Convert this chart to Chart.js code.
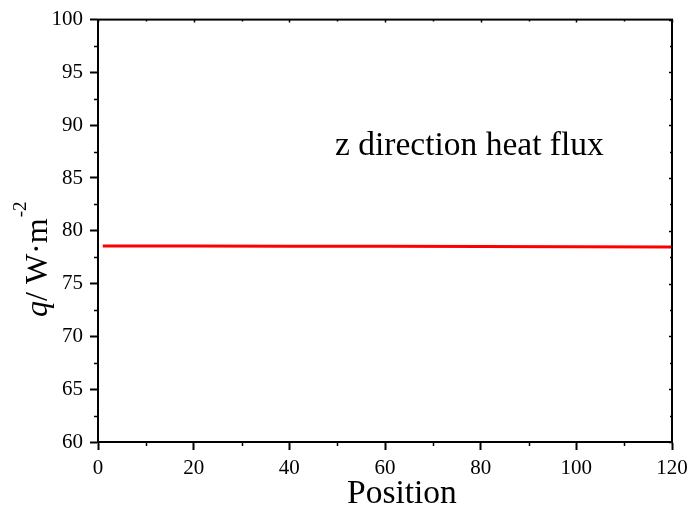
<!DOCTYPE html>
<html>
<head>
<meta charset="utf-8">
<script src="https://cdn.jsdelivr.net/npm/chart.js@4"></script>
<style>
  html, body { margin: 0; padding: 0; background: #fff; }
  #wrap { width: 690px; height: 508px; }
</style>
</head>
<body>
<div id="wrap"><canvas id="c" width="690" height="508"></canvas></div>
<script>
// Heat flux along the z direction, sampled by position
const positions = [1, 20, 40, 60, 80, 100, 120];
const fluxZ = [78.56, 78.55, 78.54, 78.53, 78.51, 78.48, 78.46];

const xTicks = [0, 20, 40, 60, 80, 100, 120];
const yTicks = [60, 65, 70, 75, 80, 85, 90, 95, 100];

const annotationText = 'z direction heat flux';
const xTitle = 'Position';

const SERIF = '"Liberation Serif", "Times New Roman", serif';

// Frame, minor ticks, axis titles and the inline label
const decorations = {
  id: 'decorations',
  afterDraw(chart) {
    const { ctx, chartArea: a, scales: { x, y } } = chart;
    ctx.save();
    ctx.strokeStyle = '#000';
    ctx.lineWidth = 2;
    ctx.strokeRect(a.left, a.top, a.right - a.left, a.bottom - a.top);

    // minor ticks: outward on bottom/left, tiny inward marks on top/right
    ctx.lineWidth = 1.5;
    ctx.beginPath();
    for (let v = 10; v < 120; v += 20) {
      const px = Math.round(x.getPixelForValue(v)) + 0.5;
      ctx.moveTo(px, a.bottom); ctx.lineTo(px, a.bottom + 4);
      ctx.moveTo(px, a.top); ctx.lineTo(px, a.top + 2);
    }
    for (let v = 62.5; v < 100; v += 5) {
      const py = Math.round(y.getPixelForValue(v)) + 0.5;
      ctx.moveTo(a.left, py); ctx.lineTo(a.left - 4, py);
      ctx.moveTo(a.right, py); ctx.lineTo(a.right - 2, py);
    }
    for (const v of xTicks) {
      const px = Math.round(x.getPixelForValue(v)) + 0.5;
      ctx.moveTo(px, a.top); ctx.lineTo(px, a.top + 3);
    }
    for (const v of yTicks) {
      const py = Math.round(y.getPixelForValue(v)) + 0.5;
      ctx.moveTo(a.right, py); ctx.lineTo(a.right - 3, py);
    }
    ctx.stroke();

    ctx.fillStyle = '#000';
    ctx.textBaseline = 'alphabetic';

    // x-axis title
    ctx.font = '33.5px ' + SERIF;
    ctx.textAlign = 'left';
    ctx.fillText(xTitle, 347, 503);

    // inline label
    ctx.font = '33.5px ' + SERIF;
    ctx.fillText(annotationText, 335, 155);

    // y-axis title: q/ W·m^-2, rotated
    ctx.translate(47, 317);
    ctx.rotate(-Math.PI / 2);
    let cx = 0;
    ctx.font = 'italic 32px ' + SERIF;
    ctx.fillText('q', cx, 0);
    cx += ctx.measureText('q').width;
    ctx.font = '32px ' + SERIF;
    const mid = '/ W\u00B7m';
    ctx.fillText(mid, cx, 0);
    cx += ctx.measureText(mid).width + 1;
    ctx.font = '19px ' + SERIF;
    ctx.fillText('-2', cx, -21);
    ctx.restore();
  }
};

new Chart(document.getElementById('c'), {
  type: 'line',
  data: {
    datasets: [{
      data: positions.map((p, i) => ({ x: p, y: fluxZ[i] })),
      borderColor: '#ff0000',
      borderWidth: 3,
      pointRadius: 0,
      tension: 0,
      fill: false
    }]
  },
  options: {
    responsive: false,
    animation: false,
    devicePixelRatio: 1,
    layout: { padding: { top: 18, right: 18, left: 0, bottom: 0 } },
    plugins: { legend: { display: false }, tooltip: { enabled: false } },
    scales: {
      x: {
        type: 'linear',
        min: 0, max: 120,
        afterFit(s) { s.height = 66; s.paddingRight = 0; },
        afterBuildTicks(s) { s.ticks = xTicks.map(v => ({ value: v })); },
        border: { display: true, color: '#000', width: 2 },
        grid: { drawOnChartArea: false, drawTicks: true, tickLength: 8, tickWidth: 2, tickColor: '#000' },
        ticks: { color: '#000', padding: 6, maxRotation: 0, font: { family: SERIF, size: 21 } }
      },
      y: {
        type: 'linear',
        min: 60, max: 100,
        afterFit(s) { s.width = 98; },
        afterBuildTicks(s) { s.ticks = yTicks.map(v => ({ value: v })); },
        border: { display: true, color: '#000', width: 2 },
        grid: { drawOnChartArea: false, drawTicks: true, tickLength: 8, tickWidth: 2, tickColor: '#000' },
        ticks: { color: '#000', padding: 7, font: { family: SERIF, size: 21 } }
      }
    }
  },
  plugins: [decorations]
});
</script>
</body>
</html>
